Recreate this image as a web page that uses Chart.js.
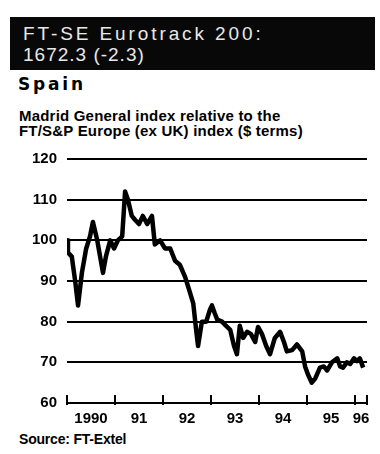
<!DOCTYPE html>
<html>
<head>
<meta charset="utf-8">
<script src="https://cdn.jsdelivr.net/npm/chart.js@4"></script>
<style>
  body { margin: 0; width: 380px; height: 454px; background: #fff; position: relative; overflow: hidden; font-family: "Liberation Sans", Arial, sans-serif; }
  .head { position: absolute; left: 10px; top: 17px; width: 365px; height: 53px; background: #080808; color: #e8e8e8; }
  .head div { position: absolute; left: 13px; font-size: 19px; line-height: 22px; white-space: nowrap; }
  .spain { position: absolute; left: 18px; top: 74px; font-family: "DejaVu Sans", sans-serif; font-size: 17px; font-weight: bold; letter-spacing: 2.8px; }
  .sub { position: absolute; left: 19px; top: 108px; font-size: 15px; font-weight: bold; line-height: 15px; letter-spacing: 0.2px; white-space: nowrap; }
  .src { position: absolute; left: 19px; top: 431px; font-size: 14px; font-weight: bold; letter-spacing: -0.2px; }
  #wrap { position: absolute; left: 0; top: 140px; width: 380px; height: 300px; }
</style>
</head>
<body>
<div class="head">
  <div style="top:6px; letter-spacing:2.9px">FT-SE Eurotrack 200:</div>
  <div style="top:27px; letter-spacing:1px">1672.3 (-2.3)</div>
</div>
<div class="spain">Spain</div>
<div class="sub">Madrid General index relative to the<br>FT/S&amp;P Europe (ex UK) index ($ terms)</div>
<div class="src">Source: FT-Extel</div>
<div id="wrap"><canvas id="myChart"></canvas></div>
<script>
// decimal years and index values
const dates = [
  1990.00, 1990.02, 1990.10, 1990.17, 1990.23, 1990.31, 1990.40, 1990.48, 1990.54, 1990.63,
  1990.69, 1990.75, 1990.81, 1990.90, 1990.98, 1991.06, 1991.15, 1991.21, 1991.27, 1991.35,
  1991.42, 1991.50, 1991.58, 1991.67, 1991.77, 1991.83, 1991.94, 1992.04, 1992.15, 1992.25,
  1992.35, 1992.46, 1992.54, 1992.63, 1992.69, 1992.73, 1992.81, 1992.90, 1992.98, 1993.02,
  1993.08, 1993.13, 1993.23, 1993.31, 1993.40, 1993.48, 1993.54, 1993.60, 1993.67, 1993.75,
  1993.83, 1993.92, 1993.98, 1994.06, 1994.15, 1994.23, 1994.33, 1994.44, 1994.52, 1994.58,
  1994.69, 1994.79, 1994.90, 1994.96, 1995.02, 1995.10, 1995.17, 1995.27, 1995.35, 1995.42,
  1995.52, 1995.63, 1995.69, 1995.75, 1995.83, 1995.90, 1995.98, 1996.04, 1996.10, 1996.17
];
const values = [
  100, 97, 96, 90, 84, 92, 98, 101, 104.5, 100,
  96, 92, 96, 100, 98, 100, 101, 112, 110, 106,
  105, 104, 106, 104, 106, 99, 100, 98, 98, 95,
  94, 91, 88, 84.5, 78, 74, 80, 80, 83, 84,
  82, 80.5, 80, 79, 78, 74, 72, 79, 76, 77.5,
  77, 75, 78.7, 77, 74, 72, 76, 77.5, 75, 72.7,
  73, 74.4, 72.7, 69, 67, 65, 66, 68.7, 69, 68,
  70, 71, 69, 68.7, 70, 69.6, 71, 70.3, 71, 68.7
];
const yearTicks = [1990, 1991, 1992, 1993, 1994, 1995, 1996, 1996.25];
const labelPos = [1990.5, 1991.5, 1992.5, 1993.5, 1994.5, 1995.5, 1996.125];
const yearLabels = ['1990', '91', '92', '93', '94', '95', '96'];
const yTicks = [60, 70, 80, 90, 100, 110, 120];

const tickMarks = {
  id: 'tickMarks',
  afterDraw(chart) {
    const c = chart.ctx;
    const x = chart.scales.x;
    const y0 = chart.scales.y.getPixelForValue(60);
    c.save();
    c.strokeStyle = '#000';
    c.lineWidth = 2;
    yearTicks.forEach((v) => {
      const px = x.getPixelForValue(v);
      c.beginPath();
      c.moveTo(px, y0 - 8);
      c.lineTo(px, y0 + 2);
      c.stroke();
    });
    c.restore();
  },
};

new Chart(document.getElementById('myChart'), {
  type: 'line',
  data: {
    datasets: [
      {
        data: dates.map((d, i) => ({ x: d, y: values[i] })),
        borderColor: '#000',
        borderWidth: 4.5,
        pointRadius: 0,
        tension: 0,
        borderJoinStyle: 'round',
      },
    ],
  },
  plugins: [tickMarks],
  options: {
    responsive: true,
    maintainAspectRatio: false,
    animation: false,
    layout: { padding: { top: 13, right: 13, left: 0, bottom: 0 } },
    plugins: { legend: { display: false }, tooltip: { enabled: false } },
    scales: {
      x: {
        type: 'linear',
        min: 1990,
        max: 1996.25,
        afterBuildTicks: (s) => { s.ticks = labelPos.map((v) => ({ value: v })); },
        afterFit: (s) => { s.height = 37; },
        grid: { display: false, drawTicks: false },
        border: { display: false },
        ticks: {
          autoSkip: false,
          maxRotation: 0,
          padding: 7,
          color: '#000',
          font: { family: 'Liberation Sans', size: 15, weight: 'bold' },
          callback: (v) => yearLabels[labelPos.indexOf(v)],
        },
      },
      y: {
        min: 60,
        max: 120,
        afterBuildTicks: (s) => { s.ticks = yTicks.map((v) => ({ value: v })); },
        afterFit: (s) => { s.width = 67; },
        grid: { color: '#000', lineWidth: 2, drawTicks: false },
        border: { display: false },
        ticks: {
          padding: 10,
          color: '#000',
          font: { family: 'Liberation Sans', size: 15, weight: 'bold' },
        },
      },
    },
  },
});
</script>
</body>
</html>
